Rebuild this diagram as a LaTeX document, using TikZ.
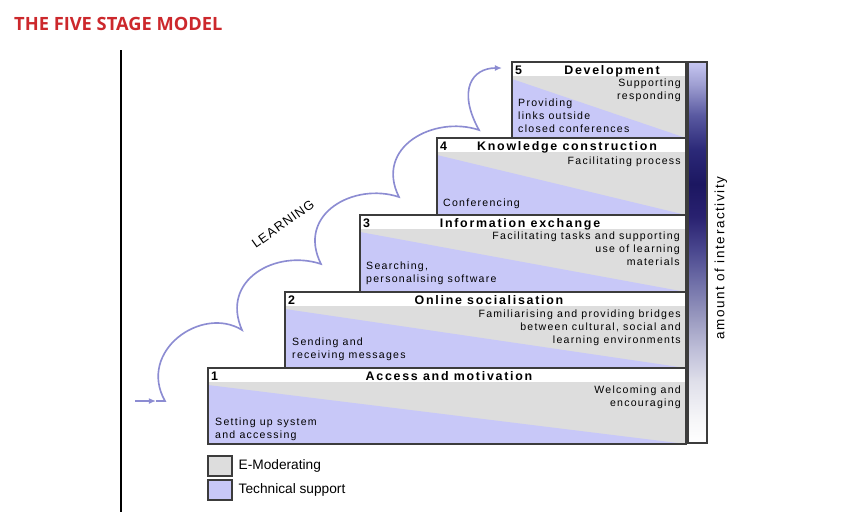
\documentclass[tikz,border=0pt]{standalone}
\usepackage{fontspec}
\setmainfont{Liberation Sans}
\newfontfamily\titlefont{Open Sans}
\newfontfamily\trackfont[LetterSpace=12]{Liberation Sans}
\newfontfamily\headfont[LetterSpace=14]{Liberation Sans}
\newfontfamily\axisfont[LetterSpace=8]{Liberation Sans}
\newfontfamily\barfont[LetterSpace=12]{Liberation Sans}
\usetikzlibrary{arrows.meta}

\definecolor{titlered}{RGB}{204,40,44}
\definecolor{techblue}{RGB}{200,200,248}
\definecolor{emodgray}{RGB}{221,221,221}
\definecolor{boxline}{RGB}{60,60,60}
\definecolor{learnline}{RGB}{140,140,210}

% bar colour: white at the bottom, navy near the top
\pgfdeclareverticalshading{interactivity}{100bp}{rgb(0bp)=(1,1,1); rgb(25bp)=(1,1,1);
  rgb(28.4bp)=(0.96,0.96,0.97); rgb(32.9bp)=(0.88,0.88,0.92); rgb(37.2bp)=(0.75,0.75,0.85);
  rgb(41.5bp)=(0.60,0.60,0.75); rgb(46bp)=(0.44,0.44,0.66); rgb(50.3bp)=(0.29,0.28,0.56);
  rgb(54.7bp)=(0.16,0.13,0.44); rgb(59bp)=(0.11,0.09,0.38); rgb(63.5bp)=(0.17,0.16,0.47);
  rgb(68bp)=(0.35,0.35,0.63); rgb(72bp)=(0.62,0.62,0.82); rgb(75bp)=(0.78,0.78,0.95);
  rgb(100bp)=(0.78,0.78,0.95)}

\begin{document}
\begin{tikzpicture}[
    x=0.03cm, y=-0.03cm,
    stagehead/.style={font=\headfont\bfseries\fontsize{10.6}{12}\selectfont, inner sep=0pt, anchor=base},
    stagenum/.style={font=\headfont\bfseries\fontsize{10.6}{12}\selectfont, inner sep=0pt, anchor=base west},
    taskr/.style={font=\trackfont\fontsize{9}{11.06}\selectfont, inner sep=0pt, align=right, anchor=north east},
    taskl/.style={font=\trackfont\fontsize{9}{11.06}\selectfont, inner sep=0pt, align=left, anchor=north west},
    legsq/.style={draw=boxline, line width=1pt, minimum width=0.72cm, minimum height=0.6cm, inner sep=0pt},
    legtxt/.style={font=\fontsize{11.7}{13}\selectfont, inner sep=0pt},
    learn/.style={learnline, line width=1.4pt}]
  \useasboundingbox (0,0) rectangle (844,521);
  \node[font=\titlefont\bfseries\fontsize{15.6}{18}\selectfont, text=titlered, anchor=base west, inner sep=0pt]
    (title) at (14,30) {THE FIVE STAGE MODEL};
  \draw[line width=1.2pt] (121,50) -- (121,512);
  % the five steps, lowest first
  \foreach \l/\t/\b in {208/368/444, 285/292/368, 360/215/292, 437/138/215, 512/62/138} {
    \fill[emodgray] (\l,\t+14) rectangle (686,\b);
    \fill[techblue] (\l,\t+17) -- (686,\b) -- (\l,\b) -- cycle;
    \draw[boxline, line width=1.1pt] (\l,\t) rectangle (686,\b);
  }
  \shade[shading=interactivity, draw=boxline, line width=1.1pt] (688,62) rectangle (707,443);
  \node[font=\barfont\fontsize{11.5}{13}\selectfont, rotate=90, inner sep=0pt] (axis) at (721,258) {amount of interactivity};
  % stage 1
  \node[stagenum]  (n1) at (211,380) {1};
  \node[stagehead] (h1) at (449,380) {Access and motivation};
  \node[taskr] (e1) at (681,386) {Welcoming and\\encouraging};
  \node[taskl] (t1) at (215,418) {Setting up system\\and accessing};
  % stage 2
  \node[stagenum]  (n2) at (288,304) {2};
  \node[stagehead] (h2) at (489,304) {Online socialisation};
  \node[taskr] (e2) at (681,310) {Familiarising and providing bridges\\between cultural, social and\\learning environments};
  \node[taskl] (t2) at (292,338) {Sending and\\receiving messages};
  % stage 3
  \node[stagenum]  (n3) at (363,227) {3};
  \node[stagehead] (h3) at (520,227) {Information exchange};
  \node[taskr] (e3) at (680,232) {Facilitating tasks and supporting\\use of learning\\materials};
  \node[taskl] (t3) at (366,262) {Searching,\\personalising software};
  % stage 4
  \node[stagenum]  (n4) at (440,150) {4};
  \node[stagehead] (h4) at (567,150) {Knowledge construction};
  \node[taskr] (e4) at (681,157) {Facilitating process};
  \node[taskl] (t4) at (443,199) {Conferencing};
  % stage 5
  \node[stagenum]  (n5) at (515,74) {5};
  \node[stagehead] (h5) at (612,74) {Development};
  \node[taskr] (e5) at (681,79) {Supporting\\responding};
  \node[taskl] (t5) at (518,99) {Providing\\links outside\\closed conferences};
  % learning curve
  \coordinate (in)    at (135,401);
  \coordinate (inmid) at (156,401);
  \coordinate (c0)    at (165,401);
  \coordinate (c1)    at (242,330);
  \coordinate (c2)    at (321,264);
  \coordinate (c3)    at (399,197);
  \coordinate (c4)    at (479,130);
  \coordinate (out)   at (502,68);
  \draw[learn, -{Latex[length=6pt,width=5pt]}] (in) -- (inmid);
  \draw[learn, -{Latex[length=6pt,width=5pt]}] (inmid) -- (c0)
    .. controls +(-28,-50) and +(-40,-25) .. (c1)
    .. controls +(-22,-50) and +(-45,-15) .. (c2)
    .. controls +(-25,-50) and +(-45,-15) .. (c3)
    .. controls +(-25,-50) and +(-45,-15) .. (c4)
    .. controls +(-22,-40) and +(-30,0) .. (out);
  \node[font=\axisfont\fontsize{11}{13}\selectfont, rotate=35.5, inner sep=0pt] (learning) at (283,224) {LEARNING};
  % legend
  \node[legsq, fill=emodgray] (lg1) at (220,466) {};
  \node[legsq, fill=techblue] (lg2) at (220,490) {};
  \node[legtxt, right=5pt] (lt1) at (lg1.east) {E-Moderating};
  \node[legtxt, right=5pt] (lt2) at (lg2.east) {Technical support};
\end{tikzpicture}
\end{document}
